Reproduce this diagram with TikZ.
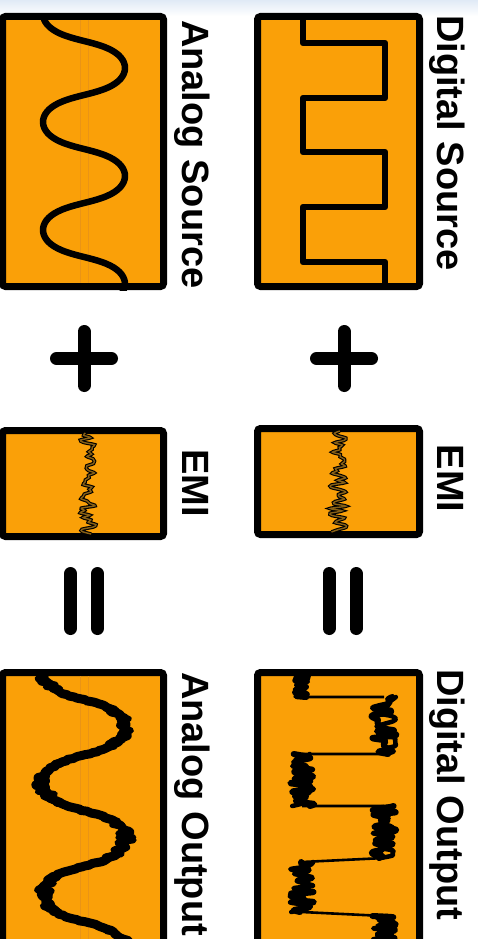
\documentclass[tikz,border=0pt]{standalone}
\usepackage{fontspec}
\setmainfont{Liberation Sans}
\usetikzlibrary{calc}
\definecolor{panel}{RGB}{250,160,8}
\definecolor{panelline}{RGB}{234,148,22}
\definecolor{noisecore}{RGB}{135,96,22}
\definecolor{haze}{RGB}{224,234,246}
\tikzset{
  panelbox/.style={draw=black, fill=panel, line width=7pt, rounded corners=3pt, inner sep=0pt},
  wave/.style={line width=6.5pt, line join=round},
  lbl/.style={rotate=-90, anchor=base west, inner sep=0pt, font=\bfseries\fontsize{38}{38}\selectfont},
  opsign/.style={line width=13pt, line cap=round},
  emi/.style={draw=black, line width=1.1pt, double=noisecore, double distance=1.4pt},
  rough/.style={line width=4pt, line join=round, line cap=round},
  seam/.style={draw=panelline, line width=0.8pt},
}
% vertical position along a wave: stretched near the crests, compressed at the crossings
\pgfmathdeclarefunction{wavey}{1}{\pgfmathparse{#1+11.46*sin(2*#1)}}
\begin{document}
\begin{tikzpicture}[x=1pt, y=-1pt]
\useasboundingbox (0,0) rectangle (478,939);
\clip (0,0) rectangle (478,939);
\shade[top color=haze, bottom color=white] (0,0) rectangle (478,16);

% panels
\node[panelbox, minimum width=162pt, minimum height=270pt] (dsrc) at (338.5,151.5) {};
\node[panelbox, minimum width=161pt, minimum height=270pt] (asrc) at (83,151.5) {};
\node[panelbox, minimum width=162pt, minimum height=106pt] (demi) at (338.5,481.5) {};
\node[panelbox, minimum width=161pt, minimum height=106pt] (aemi) at (83,483.5) {};
\node[panelbox, minimum width=162pt, minimum height=320pt] (dout) at (338.5,832.5) {};
\node[panelbox, minimum width=161pt, minimum height=320pt] (aout) at (83,832.5) {};

% thin seams in the analog panels
\draw[seam] (80,20) -- (80,283) (88,20) -- (88,283);
\draw[seam] (80,676) -- (80,939) (88,676) -- (88,939);

% digital source: square wave
\draw[wave] (303,15) -- (303,43) -- (385,43) -- (385,98) -- (303,98) -- (303,152)
  -- (385,152) -- (385,207) -- (303,207) -- (303,262) -- (385,262) -- (385,288);

% analog source: smooth wave (period 108)
\begin{scope}
  \clip (asrc.north west) rectangle (asrc.south east);
  \draw[wave] plot[smooth, samples=140, domain=0:930, variable=\t]
    ({84-41*cos(\t)},{14+0.3*wavey(\t)});
\end{scope}

% interference
\pgfmathsetseed{7}
\draw[emi] plot[smooth, samples=44, domain=431:532, variable=\t] ({338+8*rand},\t);
\pgfmathsetseed{19}
\draw[emi] plot[smooth, samples=44, domain=433:534, variable=\t] ({88+8*rand},\t);

% analog output: wave (period 111) with noise, heaviest at the crests
\begin{scope}
  \clip (aout.north west) rectangle (aout.south east);
  \pgfmathsetseed{11}
  \draw[rough, line width=9pt] plot[smooth, samples=180, domain=0:900, variable=\t]
    ({84-41*cos(\t)+2*rand},{672+0.30833*wavey(\t)});
  \draw[rough, line width=6pt] plot[smooth, samples=150, domain=0:900, variable=\t]
    ({84-41*cos(\t)+9*rand*abs(cos(\t))},{672+0.30833*wavey(\t)});
  \draw[rough, line width=5pt] plot[smooth, samples=120, domain=0:900, variable=\t]
    ({84-41*cos(\t)+9*rand*abs(cos(\t))},{672+0.30833*wavey(\t)});
\end{scope}

% digital output: square wave with noise on the edges
\draw[line width=2.6pt, line join=round]
  (302,697) -- (384,697) (384,754) -- (302,754) (302,806) -- (384,806)
  (384,858) -- (302,862) (302,912) -- (384,916);
\pgfmathsetseed{23}
\foreach \lev/\ya/\yb/\amp in {302/674/697/7, 384/697/754/12, 302/754/806/12,
                              384/806/858/12, 302/862/912/12, 384/916/945/12}{
  \draw[rough, line width=6pt] plot[smooth, samples=26, domain=\ya:\yb, variable=\t] ({\lev+\amp*rand},\t);
  \draw[rough, line width=4.5pt] plot[smooth, samples=22, domain=\ya:\yb, variable=\t] ({\lev+\amp*rand},\t);
}

% operators
\coordinate (plusL) at (84,358.5);
\coordinate (plusR) at (344,358.5);
\coordinate (eqL) at (84,601);
\coordinate (eqR) at (342.5,601);
\foreach \c in {plusL,plusR}{
  \draw[opsign] (\c) ++(-27.5,0) -- ++(55,0);
  \draw[opsign] (\c) ++(0,-27) -- ++(0,54);
}
\foreach \c in {eqL,eqR}{
  \draw[opsign] (\c) ++(-13.5,-27.5) -- ++(0,55);
  \draw[opsign] (\c) ++(13.5,-27.5) -- ++(0,55);
}

% labels
\node[lbl] (dsrcl) at (437,15) {Digital Source};
\node[lbl] (asrcl) at (182,20) {Analog Source};
\node[lbl] (deml) at (437,444.5) {EMI};
\node[lbl] (aeml) at (182,449) {EMI};
\node[lbl] (doutl) at (437,669) {Digital Output};
\node[lbl] (aoutl) at (182,672) {Analog Output};
\end{tikzpicture}
\end{document}
